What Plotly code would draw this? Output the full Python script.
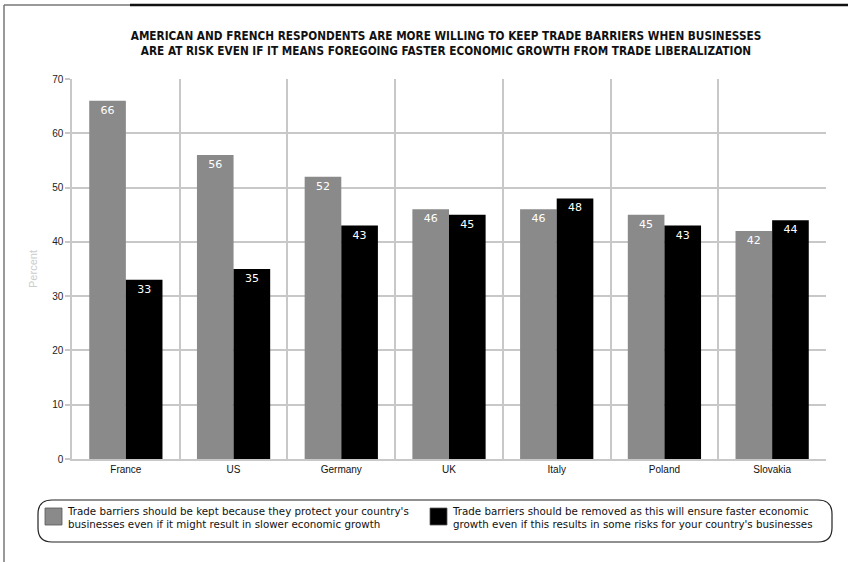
import plotly.graph_objects as go

countries = ["France", "US", "Germany", "UK", "Italy", "Poland", "Slovakia"]
keep_barriers = [66, 56, 52, 46, 46, 45, 42]
remove_barriers = [33, 35, 43, 45, 48, 43, 44]
y_ticks = [0, 10, 20, 30, 40, 50, 60, 70]

keep_name = ("Trade barriers should be kept because they protect your country's<br>"
             "businesses even if it might result in slower economic growth")
remove_name = ("Trade barriers should be removed as this will ensure faster economic<br>"
               "growth even if this results in some risks for your country's businesses")
title_text = ("AMERICAN AND FRENCH RESPONDENTS ARE MORE WILLING TO KEEP TRADE BARRIERS WHEN BUSINESSES<br>"
              "ARE AT RISK EVEN IF IT MEANS FOREGOING FASTER ECONOMIC GROWTH FROM TRADE LIBERALIZATION")

KEEP_COLOR = "#8a8a8a"
REMOVE_COLOR = "#000000"

W, H = 848, 562
L, R, T, B = 72, 22, 79, 103
pw, ph = W - L - R, H - T - B


def px(x):
    return (x - L) / pw


def py(y):
    return (H - B - y) / ph


fig = go.Figure()
fig.add_trace(go.Bar(
    x=countries, y=keep_barriers, name=keep_name,
    marker=dict(color=KEEP_COLOR, line=dict(width=0)),
    text=keep_barriers, textposition="inside", insidetextanchor="end",
    textfont=dict(color="white", size=11, family="DejaVu Sans"),
    textangle=0,
))
fig.add_trace(go.Bar(
    x=countries, y=remove_barriers, name=remove_name,
    marker=dict(color=REMOVE_COLOR, line=dict(width=0)),
    text=remove_barriers, textposition="inside", insidetextanchor="end",
    textfont=dict(color="white", size=11, family="DejaVu Sans"),
    textangle=0,
))

# rounded frame around the legend
x0, x1 = px(38), px(832)
y0, y1 = py(500), py(542)
rx, ry = 14 / pw, 14 / ph
path = (f"M {x0+rx},{y0} L {x1-rx},{y0} Q {x1},{y0} {x1},{y0-ry} "
        f"L {x1},{y1+ry} Q {x1},{y1} {x1-rx},{y1} "
        f"L {x0+rx},{y1} Q {x0},{y1} {x0},{y1+ry} "
        f"L {x0},{y0-ry} Q {x0},{y0} {x0+rx},{y0} Z")

shapes = [
    dict(type="path", xref="paper", yref="paper", path=path,
         line=dict(color="#222222", width=1.2)),
    # page frame
    dict(type="line", xref="paper", yref="paper", x0=px(4), x1=px(4), y0=py(5), y1=py(562),
         line=dict(color="#777777", width=1.5)),
    dict(type="line", xref="paper", yref="paper", x0=px(4), x1=px(130), y0=py(5), y1=py(5),
         line=dict(color="#777777", width=1.5)),
    dict(type="line", xref="paper", yref="paper", x0=px(130), x1=px(848), y0=py(5), y1=py(5),
         line=dict(color="#111111", width=2.5)),
]

# legend entries: swatch + two-line label per series
annotations = []
legend_items = [(keep_name, KEEP_COLOR, 45, 65), (remove_name, REMOVE_COLOR, 430, 450)]
for name, color, sx, tx in legend_items:
    shapes.append(dict(type="rect", xref="paper", yref="paper",
                       x0=px(sx), x1=px(sx + 17), y0=py(508), y1=py(525),
                       fillcolor=color, line=dict(color="#555555", width=0.8)))
    annotations.append(dict(xref="paper", yref="paper", x=px(tx), y=py(517),
                            xanchor="left", yanchor="middle", align="left", showarrow=False,
                            text=name, font=dict(size=10.3, color="#111111", family="DejaVu Sans")))

fig.update_layout(
    width=W, height=H,
    margin=dict(l=L, r=R, t=T, b=B),
    paper_bgcolor="white", plot_bgcolor="white",
    barmode="group", bargap=0.32, bargroupgap=0,
    font=dict(family="Liberation Sans", size=10, color="#222222"),
    title=dict(text=title_text, xref="container", x=446 / W, xanchor="center",
               yref="container", y=1 - 40 / H, yanchor="middle",
               font=dict(family="DejaVu Sans Condensed", size=11.7, color="#111111", weight="bold")),
    xaxis=dict(tickson="boundaries", showgrid=True, gridcolor="#c8c8c8", gridwidth=1.5,
               ticks="", showline=True, linecolor="#c8c8c8", linewidth=1.5,
               tickfont=dict(size=10, color="#111111")),
    yaxis=dict(range=[0, 70], tickvals=y_ticks, showgrid=True, gridcolor="#c8c8c8", gridwidth=1.5,
               ticks="outside", ticklen=5, tickcolor="#c8c8c8", tickwidth=1.5,
               showline=True, linecolor="#c8c8c8", linewidth=1.5, zeroline=False,
               tickfont=dict(size=10, color="#222222"),
               title=dict(text="Percent", font=dict(size=11, color="#cccccc"), standoff=12)),
    showlegend=False,
    shapes=shapes,
    annotations=annotations,
)

fig.write_html("out.html")
